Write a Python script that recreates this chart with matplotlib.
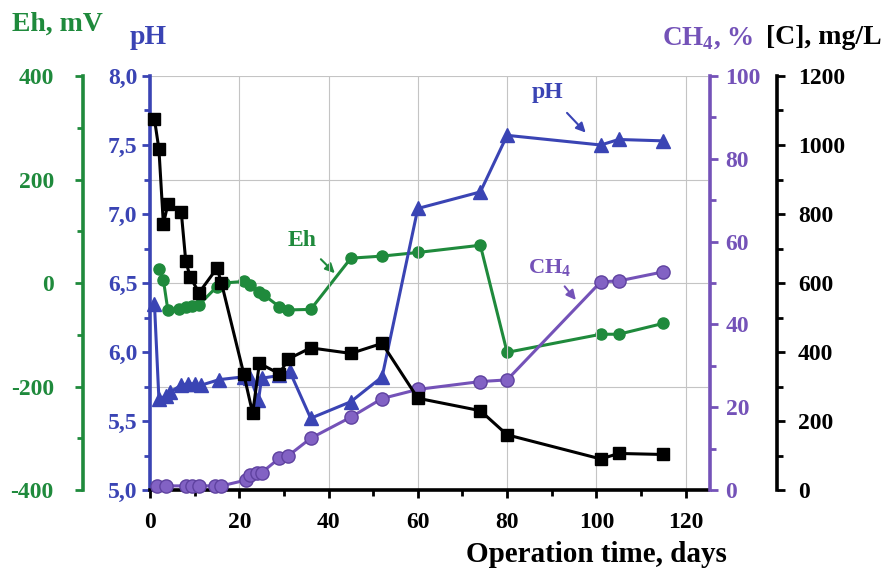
import matplotlib
matplotlib.use("Agg")
import matplotlib.pyplot as plt
from matplotlib.ticker import MultipleLocator, FuncFormatter

# --- data ---
c_days = [1, 2, 3, 4, 7, 8, 9, 11, 15, 16, 21, 23, 24.5, 29, 31, 36, 45, 52, 60, 74, 80, 101, 105, 115]
c_vals = [1075, 988, 771, 828, 807, 665, 617, 572, 643, 601, 337, 222, 367, 337, 380, 412, 396, 425,
          266, 230, 160, 90, 106, 103]

eh_days = [2, 3, 4, 6.5, 8, 9.5, 11, 15, 16.5, 21, 22.5, 24.5, 25.5, 29, 31, 36, 45, 52, 60, 74, 80,
           101, 105, 115]
eh_vals = [28, 6, -52, -51, -47, -44, -42, -7, 0, 3, -4, -17, -23, -46, -52, -51, 48, 52, 59, 73, -134,
           -99, -99, -78]

ph_days = [1, 2, 3.5, 4.5, 7, 8.5, 10, 11.5, 15.5, 21, 22.5, 24.3, 25, 29, 31.3, 36, 45, 52, 60, 74, 80,
           101, 105, 115]
ph_vals = [6.35, 5.66, 5.68, 5.71, 5.76, 5.77, 5.77, 5.76, 5.80, 5.82, 5.81, 5.65, 5.81, 5.83, 5.86, 5.52,
           5.64, 5.82, 7.04, 7.16, 7.57, 7.50, 7.54, 7.53]

ch4_days = [1.5, 3.5, 8, 9.5, 11, 14.5, 16, 21.5, 22.5, 24, 25, 29, 31, 36, 45, 52, 60, 74, 80, 101, 105, 115]
ch4_vals = [1, 1, 1, 1, 1, 1, 1, 2.4, 3.6, 4.0, 4.2, 7.7, 8.3, 12.5, 17.6, 22.1, 24.3, 26.2, 26.6,
            50.3, 50.5, 52.7]

plt.rcParams['font.family'] = ['Liberation Serif', 'DejaVu Serif']
plt.rcParams['font.weight'] = 'bold'
plt.rcParams['axes.unicode_minus'] = False
plt.rcParams['mathtext.fontset'] = 'custom'
plt.rcParams['mathtext.rm'] = 'Liberation Serif:bold'
plt.rcParams['mathtext.bf'] = 'Liberation Serif:bold'

GREEN = '#1f8a3c'
BLUE = '#3a44b4'
PURPLE = '#7452b8'
BLACK = '#000000'
FS = 17
TFS = 20

fig = plt.figure(figsize=(8.88, 5.74), dpi=100)
ax = fig.add_axes([0.1689, 0.1463, 0.6284, 0.7213])  # pH, host
ax_eh = ax.twinx()
ax_ch4 = ax.twinx()
ax_c = ax.twinx()

ax_eh.set_zorder(0)
ax.set_zorder(1)
ax_ch4.set_zorder(2)
ax_c.set_zorder(3)
ax.patch.set_visible(False)


def style_axis(a, side, color, pos=None):
    for s in ['top', 'bottom', 'left', 'right']:
        a.spines[s].set_visible(False)
    a.spines[side].set_visible(True)
    a.spines[side].set_color(color)
    a.spines[side].set_linewidth(2.6)
    if pos is not None:
        a.spines[side].set_position(('axes', pos))
    if side == 'left':
        a.yaxis.tick_left()
    else:
        a.yaxis.tick_right()
    a.tick_params(axis='y', which='both', colors=color, width=2, labelsize=FS)
    a.tick_params(axis='y', which='major', length=6)
    a.tick_params(axis='y', which='minor', length=4)


# x axis (host)
ax.set_xlim(0, 125)
ax.xaxis.set_major_locator(MultipleLocator(20))
ax.xaxis.set_minor_locator(MultipleLocator(10))
ax.tick_params(axis='x', which='both', direction='out', width=2, labelsize=FS, pad=10)
ax.tick_params(axis='x', which='major', length=6)
ax.tick_params(axis='x', which='minor', length=4)
ax.grid(axis='x', color='#c4c4c4', lw=0.8)

# pH
style_axis(ax, 'left', BLUE)
ax.set_ylim(5.0, 8.0)
ax.yaxis.set_major_locator(MultipleLocator(0.5))
ax.yaxis.set_minor_locator(MultipleLocator(0.25))
ax.yaxis.set_major_formatter(FuncFormatter(lambda v, p: f"{v:.1f}".replace('.', ',')))
ax.tick_params(axis='y', pad=3)
ax.spines['bottom'].set_visible(True)
ax.spines['bottom'].set_color(BLACK)
ax.spines['bottom'].set_linewidth(2.6)

# Eh
style_axis(ax_eh, 'left', GREEN, -0.12)
ax_eh.set_ylim(-400, 400)
ax_eh.yaxis.set_major_locator(MultipleLocator(200))
ax_eh.yaxis.set_minor_locator(MultipleLocator(100))
ax_eh.tick_params(axis='y', pad=15)
ax_eh.grid(axis='y', which='major', color='#c4c4c4', lw=0.8)

# CH4
style_axis(ax_ch4, 'right', PURPLE, 1.004)
ax_ch4.set_ylim(0, 100)
ax_ch4.yaxis.set_major_locator(MultipleLocator(20))
ax_ch4.yaxis.set_minor_locator(MultipleLocator(10))
ax_ch4.tick_params(axis='y', pad=5)

# [C]
style_axis(ax_c, 'right', BLACK, 1.124)
ax_c.set_ylim(0, 1200)
ax_c.yaxis.set_major_locator(MultipleLocator(200))
ax_c.yaxis.set_minor_locator(MultipleLocator(100))
ax_c.tick_params(axis='y', pad=9)

# series
ax_eh.plot(eh_days, eh_vals, color=GREEN, lw=2.2, marker='o', ms=8, mfc=GREEN, mec=GREEN, clip_on=False)
ax.plot(ph_days, ph_vals, color=BLUE, lw=2.2, marker='^', ms=9.5, mfc=BLUE, mec=BLUE, clip_on=False)
ax_ch4.plot(ch4_days, ch4_vals, color=PURPLE, lw=2.2, marker='o', ms=9.5, mfc='#8262c4', mec='#5f42a0',
            mew=1, clip_on=False)
ax_c.plot(c_days, c_vals, color=BLACK, lw=2.2, marker='s', ms=8, mfc=BLACK, mec=BLACK, clip_on=False)

# in-plot labels with arrows
ax_eh.annotate('Eh', xy=(41.4, 19), xytext=(34, 83), color=GREEN, fontsize=FS, ha='center', va='center',
               arrowprops=dict(arrowstyle='-|>', color=GREEN, lw=1.5, mutation_scale=14,
                               shrinkA=6, shrinkB=0))
ax.annotate('pH', xy=(97.6, 7.59), xytext=(89.1, 7.88), color=BLUE, fontsize=FS, ha='center', va='center',
            arrowprops=dict(arrowstyle='-|>', color=BLUE, lw=1.5, mutation_scale=14, shrinkA=7, shrinkB=0))
ax_ch4.annotate(r'CH$_{\mathbf{4}}$', xy=(95.4, 45.9), xytext=(89.6, 53.5), color=PURPLE, fontsize=FS - 1,
                ha='center', va='center',
                arrowprops=dict(arrowstyle='-|>', color=PURPLE, lw=1.5, mutation_scale=14,
                                shrinkA=4, shrinkB=0))

# axis titles
fig.text(57 / 888, 1 - 24 / 574, 'Eh, mV', color=GREEN, fontsize=TFS, ha='center', va='center')
fig.text(148 / 888, 1 - 38 / 574, 'pH', color=BLUE, fontsize=TFS, ha='center', va='center')
fig.text(662 / 888, 1 - 38 / 574, r'CH$_{\mathbf{4}}$, %', color=PURPLE, fontsize=TFS - 0.5, ha='left',
         va='center')
fig.text(766 / 888, 1 - 38 / 574, '[C], mg/L', color=BLACK, fontsize=TFS, ha='left', va='center')
fig.text(596 / 888, 1 - 554 / 574, 'Operation time, days', color=BLACK, fontsize=21, ha='center',
         va='center')

fig.savefig('out.png', dpi=100, facecolor='white')
